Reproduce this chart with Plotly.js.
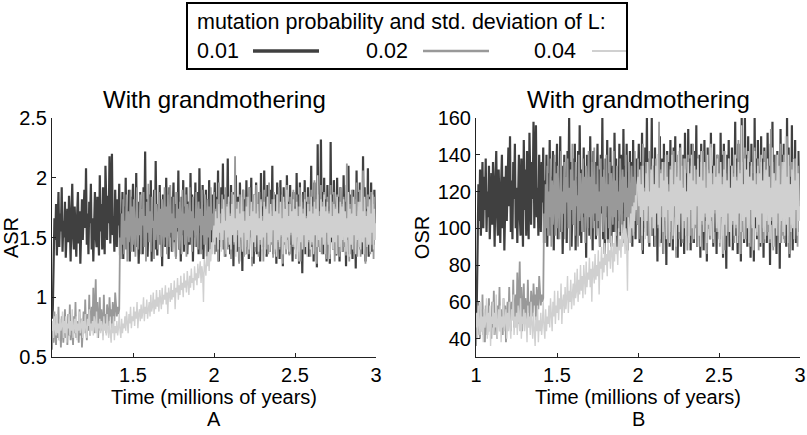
<!DOCTYPE html>
<html>
<head>
<meta charset="utf-8">
<script src="https://cdn.plot.ly/plotly-3.0.1.min.js"></script>
<style>html,body{margin:0;padding:0;background:#fff;}#chart{width:807px;height:435px;}</style>
</head>
<body>
<div id="chart"></div>
<script>
// Time axis: 1.000 .. 3.000 million years, one sample every 0.005
const timeStart = 1.0;
const timeStep = 0.005;

const seriesNames = ["0.01", "0.02", "0.04"];
const legendTitle = "mutation probability and std. deviation of L:";
const panelTitle = "With grandmothering";
const xLabel = "Time (millions of years)";
const panelLetters = ["A", "B"];
const yLabels = ["ASR", "OSR"];
const xTicksA = [1.5, 2, 2.5, 3];
const xTicksB = [1, 1.5, 2, 2.5, 3];
const yTicksA = [0.5, 1, 1.5, 2, 2.5];
const yTicksB = [40, 60, 80, 100, 120, 140, 160];

// ---- Panel A: ASR ----
const asr001 = [
0.82,0.90,1.28,1.66,1.48,1.78,1.35,1.60,1.88,1.42,
1.70,1.55,1.92,1.38,1.64,1.50,1.80,1.33,1.58,1.74,
1.46,1.85,1.62,1.30,1.70,1.95,1.52,1.40,1.76,1.60,
1.34,1.68,1.88,1.45,1.72,1.28,1.56,1.82,1.48,1.66,
1.90,1.58,2.08,1.44,1.70,1.36,1.80,1.62,1.95,1.40,
1.66,1.30,1.74,1.88,1.52,1.42,1.84,1.60,1.35,2.02,
1.55,1.78,1.40,1.92,1.64,1.36,2.10,1.70,1.48,1.85,
1.62,2.18,1.45,1.80,2.20,1.52,1.68,1.38,1.90,1.58,
1.42,1.82,1.60,1.95,1.35,1.70,1.50,1.88,1.32,1.76,
1.55,2.00,1.40,1.72,1.62,1.90,1.30,1.84,1.48,1.68,
1.95,1.38,1.76,1.55,2.04,1.42,1.80,1.28,1.66,1.88,
1.50,1.74,1.36,1.92,1.60,2.22,1.45,1.82,1.34,1.70,
1.86,1.48,1.98,1.30,1.72,1.58,1.90,1.40,2.14,1.62,
1.35,1.78,1.52,1.94,1.44,1.70,1.26,1.86,1.56,1.80,
1.42,2.00,1.60,1.74,1.32,1.92,1.50,1.84,1.38,1.68,
1.96,1.46,1.78,1.34,1.88,1.55,2.06,1.40,1.72,1.30,
1.84,1.52,1.98,1.38,1.76,1.46,1.92,1.36,1.66,1.80,
1.44,2.04,1.58,1.86,1.30,1.74,1.50,1.96,1.42,1.88,
1.62,1.36,2.08,1.54,1.80,1.40,1.94,1.32,1.72,1.60,
1.90,1.44,1.82,1.34,1.98,1.52,1.76,1.40,1.86,1.48,
1.70,1.96,1.38,1.84,1.56,2.06,1.30,1.78,1.46,1.92,
1.60,2.12,1.40,1.86,1.34,1.74,1.58,2.16,1.42,1.80,
1.36,1.94,1.52,1.78,1.26,1.88,1.48,2.02,1.38,1.70,
1.84,1.30,1.96,1.56,1.76,1.22,1.90,1.44,1.82,1.36,
1.98,1.48,1.74,1.32,1.92,1.58,2.00,1.40,1.80,1.28,
1.86,1.54,1.96,1.36,1.72,1.46,1.88,1.30,2.04,1.50,
1.76,1.42,2.06,1.60,1.84,1.34,1.94,1.48,1.70,1.38,
1.90,1.56,2.10,1.36,1.78,1.44,1.86,1.28,1.96,1.52,
1.68,1.32,1.98,1.50,1.82,1.26,1.92,1.46,1.74,1.40,
2.02,1.54,1.80,1.36,1.94,1.44,1.70,1.30,1.88,1.58,
1.76,1.40,2.04,1.52,1.86,1.28,1.96,1.46,1.72,1.20,
1.88,1.56,1.98,1.36,1.80,1.48,1.92,1.34,1.74,1.60,
2.10,1.42,1.84,1.30,1.96,1.54,1.78,1.25,2.28,1.48,
1.70,1.38,2.32,1.56,1.88,1.36,2.00,1.44,1.82,1.30,
1.94,1.52,1.76,1.28,2.30,1.46,1.86,1.40,1.98,1.58,
1.74,1.35,2.00,1.50,1.84,1.30,1.92,1.44,1.78,1.38,
2.02,1.56,1.80,1.26,1.94,1.48,2.10,1.36,1.86,1.52,
1.70,1.32,1.90,1.46,1.78,1.24,2.06,1.42,1.88,1.54,
1.96,1.40,1.82,1.36,2.18,1.50,1.92,1.30,1.74,1.46,
2.08,1.34,1.84,1.52,1.96,1.38,1.80,1.44,1.90,1.60,
1.55];
const asr002 = [
0.56,0.74,0.62,0.88,0.70,0.60,0.80,0.66,0.92,0.64,
0.78,0.58,0.84,0.70,0.62,0.76,0.90,0.66,0.72,0.60,
0.86,0.68,0.94,0.64,0.78,0.72,0.60,0.84,0.70,0.96,
0.66,0.80,0.74,0.62,0.90,0.68,0.82,0.58,0.76,0.88,
0.70,0.98,0.74,0.64,0.86,0.72,1.02,0.68,0.80,0.92,
0.74,1.08,0.70,0.88,1.15,0.76,0.96,0.66,0.84,1.00,
0.72,0.90,0.80,0.68,1.02,0.78,0.86,0.70,0.94,0.82,
0.76,1.00,0.84,0.90,0.74,0.96,0.86,0.80,1.04,0.88,
0.84,0.92,0.86,0.90,1.50,1.32,1.70,1.44,1.82,1.36,
1.64,1.50,1.86,1.30,1.72,1.46,1.58,1.90,1.38,1.76,
1.44,1.82,1.56,1.34,1.70,1.92,1.40,1.66,1.52,1.86,
1.36,1.74,1.60,1.88,1.42,1.68,1.30,1.80,1.54,1.95,
1.46,1.72,1.38,1.84,1.58,1.64,1.32,1.90,1.48,1.78,
1.62,1.40,1.88,1.52,1.74,1.34,1.82,1.56,1.44,1.92,
1.50,1.76,1.36,1.86,1.60,1.42,1.94,1.54,1.70,1.38,
1.84,1.48,1.66,1.32,1.88,1.58,1.74,1.40,1.80,1.52,
1.36,1.90,1.56,1.70,1.44,1.86,1.34,1.78,1.62,1.46,
1.92,1.50,1.72,1.38,1.84,1.56,1.66,1.42,1.88,1.54,
1.40,1.80,1.60,1.74,1.36,1.90,1.52,1.68,1.44,1.86,
1.58,1.34,1.82,1.50,1.76,1.40,1.92,1.56,1.70,1.46,
1.88,1.36,1.74,1.54,1.82,1.30,1.96,1.48,1.70,1.42,
1.86,1.58,1.66,1.34,1.92,1.50,1.78,1.40,1.84,1.46,
1.70,1.32,1.88,1.56,1.74,1.44,2.18,1.38,1.80,1.52,
1.64,1.28,1.86,1.48,1.76,1.40,1.90,1.34,1.72,1.58,
1.84,1.42,1.70,1.36,1.92,1.50,1.66,1.26,1.86,1.46,
1.78,1.38,1.94,1.52,1.72,1.34,1.88,1.44,1.80,1.56,
1.68,1.30,1.90,1.48,1.76,1.40,1.84,1.36,1.96,1.50,
1.72,1.44,1.82,1.33,1.88,1.54,1.70,1.38,1.86,1.46,
1.92,1.40,1.74,1.50,1.86,1.28,1.80,1.44,1.70,1.36,
1.94,1.48,1.78,1.35,1.84,1.52,1.72,1.42,1.90,1.45,
1.70,1.32,1.86,1.50,1.76,1.38,1.92,1.30,1.80,1.46,
1.74,1.40,1.88,1.54,1.68,1.36,1.84,1.46,1.78,1.34,
1.90,1.44,1.76,1.38,1.98,1.52,1.82,1.28,1.86,1.42,
1.72,1.48,1.94,1.36,1.80,1.56,1.88,1.40,1.76,1.32,
1.84,1.46,1.72,1.36,1.94,1.50,1.80,1.40,1.88,1.30,
1.76,1.54,1.86,1.42,1.70,1.34,1.92,1.46,1.78,1.38,
1.84,1.42,1.70,1.35,2.12,1.48,1.86,1.30,1.78,1.44,
1.90,1.52,1.74,1.38,1.82,1.46,1.96,1.34,1.72,1.50,
1.90,1.34,1.76,1.46,2.06,1.40,1.82,1.28,1.72,1.44,
1.86,1.52,1.70,1.36,1.88,1.44,1.78,1.32,1.84,1.50,
1.60];
const asr004 = [
0.72,0.80,0.66,0.84,0.74,0.68,0.86,0.70,0.78,0.64,
0.82,0.72,0.76,0.88,0.66,0.80,0.70,0.84,0.62,0.78,
0.74,0.86,0.68,0.80,0.72,0.90,0.66,0.76,0.82,0.70,
0.84,0.64,0.78,0.72,0.88,0.70,0.76,0.82,0.66,0.80,
0.70,0.86,0.74,0.66,0.82,0.76,0.90,0.68,0.78,0.72,
0.80,0.68,0.84,0.74,0.70,0.88,0.66,0.78,0.74,0.82,
0.70,0.80,0.76,0.64,0.84,0.72,0.78,0.68,0.86,0.74,
0.66,0.80,0.72,0.62,0.78,0.70,0.84,0.64,0.76,0.70,
0.80,0.68,0.74,0.86,0.72,0.66,0.82,0.70,0.78,0.74,
0.84,0.72,0.88,0.76,0.70,0.86,0.78,0.92,0.74,0.84,
0.80,0.92,0.76,0.88,0.82,0.96,0.74,0.86,0.90,0.80,
0.94,0.82,0.88,1.00,0.80,0.92,0.86,0.98,0.82,0.90,
0.96,0.84,1.02,0.88,0.92,1.04,0.86,0.98,0.90,1.06,
0.92,1.00,0.88,1.06,0.96,0.90,1.08,0.94,1.02,0.98,
1.10,0.94,1.04,0.86,1.08,1.00,0.96,1.12,0.98,1.06,
1.00,1.14,0.90,1.08,1.04,1.16,0.98,1.10,1.02,1.18,
1.06,1.12,1.00,1.20,1.08,1.14,1.04,1.22,1.10,1.02,
1.18,1.08,1.24,1.12,1.16,1.06,1.26,1.14,1.20,1.10,
1.28,1.16,1.22,1.30,1.12,1.26,1.20,0.96,1.32,1.24,
1.18,1.34,1.26,1.38,1.22,1.40,1.30,1.46,1.36,1.52,
1.60,1.44,1.72,1.50,1.66,1.40,1.78,1.54,1.62,1.38,
1.74,1.48,1.82,1.56,1.64,1.36,1.76,1.50,1.84,1.44,
1.68,1.40,1.78,1.52,1.86,1.46,1.66,1.34,1.74,1.56,
1.80,1.42,1.70,1.50,1.84,1.38,1.72,1.54,1.64,1.36,
1.76,1.48,1.84,1.40,1.68,1.56,1.80,1.34,1.72,1.46,
1.86,1.42,1.70,1.52,1.78,1.38,1.66,1.48,1.82,1.40,
1.64,1.50,1.80,1.36,1.74,1.54,1.84,1.44,1.70,1.38,
1.78,1.46,1.68,1.56,1.82,1.40,1.72,1.34,1.86,1.48,
1.70,1.42,1.80,1.52,1.66,1.36,1.84,1.46,1.74,1.40,
1.90,1.50,1.68,1.38,1.78,1.54,1.72,1.44,1.82,1.42,
1.74,1.36,1.80,1.50,1.68,1.30,1.76,1.46,1.86,1.40,
1.70,1.52,1.82,1.42,1.66,1.34,1.78,1.48,1.72,1.40,
1.84,1.46,1.70,1.36,1.80,1.52,1.74,1.42,2.02,1.48,
1.68,1.38,1.82,1.50,1.76,1.44,1.86,1.36,1.72,1.54,
1.80,1.44,1.70,1.32,1.86,1.50,1.68,1.40,1.78,1.46,
1.74,1.36,1.84,1.52,1.70,1.42,1.80,1.38,1.76,1.48,
1.82,1.46,1.72,1.38,1.66,1.50,1.88,1.34,1.74,1.44,
1.70,1.40,1.84,1.52,1.78,1.36,1.68,1.48,1.80,1.42,
1.80,1.40,1.96,1.46,1.72,1.36,1.84,1.50,1.68,1.42,
1.76,1.44,1.82,1.38,1.70,1.54,1.86,1.40,1.74,1.48,
1.62];

// ---- Panel B: OSR ----
const osr001 = [
52,60,90,124,104,132,96,118,136,100,
128,110,138,98,120,106,134,94,116,130,
102,136,118,90,126,142,108,96,132,112,
92,124,140,100,128,88,114,134,104,122,
144,112,150,98,126,94,136,116,146,100,
122,92,130,140,108,96,138,114,90,148,
110,132,96,142,118,94,152,124,102,136,
116,158,100,134,156,106,122,96,140,112,
98,136,114,144,92,126,104,140,90,130,
108,148,96,128,118,142,88,136,104,124,
146,94,130,110,150,98,134,86,120,140,
104,128,92,142,116,160,100,136,90,126,
138,102,146,88,128,112,142,96,156,116,
92,132,106,144,98,126,84,140,110,134,
96,150,114,128,88,142,104,136,94,122,
146,100,132,90,140,108,160,94,126,86,
138,106,148,92,130,100,144,90,120,134,
98,152,112,138,86,128,104,146,96,140,
116,92,154,108,134,96,146,88,126,114,
142,98,136,90,148,106,130,94,138,102,
124,146,92,136,110,152,86,132,100,144,
114,160,96,138,90,128,112,160,96,134,
90,144,106,132,82,140,102,150,92,126,
138,86,146,110,130,80,142,98,136,90,
148,102,128,88,144,112,150,94,134,84,
140,108,146,90,126,100,140,86,152,104,
130,96,154,114,138,88,146,102,124,92,
142,110,156,90,132,98,140,84,146,106,
122,88,148,104,136,82,144,100,128,94,
152,108,134,90,146,98,126,86,140,112,
130,94,152,106,140,84,146,100,126,78,
140,110,148,90,134,102,144,88,128,114,
158,96,138,86,146,108,132,82,160,102,
124,92,160,110,140,90,150,98,136,84,
146,106,130,82,160,100,138,94,148,112,
128,90,150,104,138,84,144,98,132,92,
152,110,134,80,146,102,158,90,140,106,
124,86,142,100,132,78,154,96,140,108,
146,94,136,90,160,104,144,84,128,100,
156,88,138,106,148,92,134,98,142,114,
112];
const osr002 = [
36,50,42,60,48,40,56,44,64,42,
54,38,58,48,42,52,62,44,50,40,
60,46,66,42,54,50,40,58,48,68,
44,56,50,42,62,46,58,38,52,60,
48,68,50,44,60,50,72,46,56,64,
50,76,48,62,82,52,68,44,58,70,
50,62,56,46,72,54,60,48,66,58,
52,70,58,64,50,68,60,56,74,62,
58,64,60,62,108,92,124,100,134,96,
120,106,138,90,126,102,114,140,96,130,
100,134,112,94,124,142,98,120,108,136,
94,128,114,138,100,122,88,132,110,146,
102,126,96,136,112,118,90,140,104,130,
116,98,138,108,128,92,134,110,100,142,
106,128,94,136,114,100,144,108,124,96,
134,104,120,90,138,112,128,98,132,108,
94,140,112,124,100,136,92,130,116,102,
142,106,126,96,134,110,120,98,138,108,
98,132,114,128,94,140,106,122,100,136,
112,92,134,106,128,98,142,110,124,102,
138,94,126,108,134,88,146,104,122,98,
136,112,120,92,142,104,130,96,134,100,
124,90,138,110,126,100,158,94,132,106,
118,86,136,104,128,96,140,92,124,112,
134,98,122,94,142,106,120,84,136,102,
130,94,144,108,124,92,138,100,132,110,
120,88,140,104,128,96,134,92,146,106,
124,100,132,90,138,110,122,96,136,102,
142,98,126,106,136,86,132,100,122,94,
144,104,130,92,134,108,124,98,140,100,
122,90,136,106,128,96,142,88,130,102,
126,98,138,110,120,94,134,102,130,92,
140,100,128,96,148,108,132,86,136,98,
124,104,144,94,130,112,138,98,128,90,
134,102,124,94,144,106,130,98,138,88,
128,110,136,100,122,92,142,104,130,96,
134,98,122,92,154,104,136,88,130,100,
140,108,126,96,132,102,146,92,124,106,
140,92,128,104,150,96,134,86,124,102,
136,108,122,94,138,100,130,90,134,106,
115];
const osr004 = [
46,54,40,58,48,42,60,44,52,38,
56,46,50,62,40,54,44,58,36,52,
48,60,42,54,46,64,40,50,56,44,
58,38,52,46,62,44,50,56,40,54,
44,60,48,40,56,50,64,42,52,46,
54,42,58,48,44,62,40,52,48,56,
44,54,50,38,58,46,52,42,60,48,
40,54,46,36,52,44,58,38,50,44,
54,42,48,60,46,40,56,44,52,48,
58,46,62,50,44,60,52,66,48,58,
54,66,50,62,56,70,48,60,64,54,
68,56,62,74,54,66,60,72,56,64,
70,58,76,62,66,78,60,72,64,80,
66,74,62,80,70,64,82,68,76,72,
84,68,78,60,82,74,70,86,72,80,
74,88,64,82,78,90,72,84,76,92,
80,86,74,94,82,88,78,96,84,76,
92,82,98,86,90,80,100,88,94,84,
102,90,96,104,86,100,94,66,106,98,
92,108,100,112,96,114,104,118,110,124,
128,112,132,106,124,96,134,110,120,94,
130,104,136,112,120,92,132,106,138,100,
124,96,134,108,140,102,122,90,130,112,
136,98,126,106,140,94,128,110,120,92,
132,104,140,96,124,112,136,90,128,102,
142,98,126,108,134,94,122,104,138,96,
120,106,136,92,130,110,140,100,126,94,
134,102,124,112,138,96,128,90,142,104,
126,98,136,108,122,92,140,102,130,96,
146,106,124,94,134,110,128,100,138,98,
130,92,136,106,124,86,132,102,142,96,
126,108,138,98,122,90,134,104,128,96,
140,102,126,92,136,108,130,98,156,104,
124,94,138,106,132,100,142,92,128,110,
136,100,126,88,142,106,124,96,134,102,
130,92,140,108,126,98,136,94,132,104,
138,102,128,94,122,106,144,90,130,100,
126,96,140,108,134,92,124,104,136,98,
136,96,150,102,128,92,140,106,124,98,
132,100,138,94,126,110,142,96,130,104,
112];

const colors = ["#404040", "#999999", "#d0d0d0"];
const widths = [2.2, 1.8, 1.4];
const FONT = "Liberation Sans, Arial, Helvetica, sans-serif";

function tr(y, i, xa, ya) {
  return {type: "scatter", mode: "lines", x0: timeStart, dx: timeStep, y: y,
    xaxis: xa, yaxis: ya, name: seriesNames[i], showlegend: false, hoverinfo: "skip",
    line: {color: colors[i], width: widths[i]}};
}
const data = [
  tr(asr001, 0, "x", "y"), tr(asr002, 1, "x", "y"), tr(asr004, 2, "x", "y"),
  tr(osr001, 0, "x2", "y2"), tr(osr002, 1, "x2", "y2"), tr(osr004, 2, "x2", "y2")
];

const W = 807, H = 435;
const px = v => v / W, py = v => 1 - v / H;
const TICKFONT = {family: FONT, size: 20, color: "#000"};

function xax(domain, ticks, anchor) {
  return {domain: domain, range: [1, 3], anchor: anchor, showgrid: false, zeroline: false,
    showline: true, linecolor: "#222", linewidth: 1, ticks: "inside", ticklen: 4, tickcolor: "#222",
    tickvals: ticks, ticktext: ticks.map(String), tickfont: TICKFONT, ticklabelstandoff: 0,
    title: {text: xLabel, font: TICKFONT, standoff: 0}};
}
function yax(range, ticks, anchor, label) {
  return {domain: [py(357), py(118)], range: range, anchor: anchor, showgrid: false, zeroline: false,
    showline: true, linecolor: "#222", linewidth: 1, ticks: "inside", ticklen: 4, tickcolor: "#222",
    tickvals: ticks, ticktext: ticks.map(String), tickfont: TICKFONT, ticklabelstandoff: 0,
    title: {text: label, font: TICKFONT, standoff: 2}};
}

const ann = [];
const shapes = [];
function txt(text, x, y, size, xanchor) {
  ann.push({text: text, xref: "paper", yref: "paper", x: px(x), y: py(y), showarrow: false,
    xanchor: xanchor || "center", yanchor: "middle", font: {family: FONT, size: size, color: "#000"}});
}
// panel titles and letters
txt(panelTitle, 214, 99, 24);
txt(panelTitle, 638, 99, 24);
txt(panelLetters[0], 214, 419, 20);
txt(panelLetters[1], 638, 419, 20);
// legend box
shapes.push({type: "rect", xref: "paper", yref: "paper", x0: px(187), x1: px(627), y0: py(69), y1: py(3),
  line: {color: "#000", width: 2}, fillcolor: "#fff"});
txt(legendTitle, 195, 22, 21.5, "left");
const legX = [[195, 253, 319], [364, 423, 489], [532, 592, 626]];
const legW = [3.5, 2.5, 1.8];
for (let i = 0; i < 3; i++) {
  txt(seriesNames[i], legX[i][0], 51, 21.5, "left");
  shapes.push({type: "line", xref: "paper", yref: "paper", x0: px(legX[i][1]), x1: px(legX[i][2]),
    y0: py(51), y1: py(51), line: {color: colors[i], width: legW[i]}});
}

const layout = {
  width: W, height: H, margin: {l: 0, r: 0, t: 0, b: 0},
  paper_bgcolor: "#fff", plot_bgcolor: "#fff", showlegend: false,
  font: {family: FONT, color: "#000"},
  xaxis: xax([px(52), px(376)], xTicksA, "y"),
  yaxis: yax([0.5, 2.5], yTicksA, "x", yLabels[0]),
  xaxis2: xax([px(476), px(800)], xTicksB, "y2"),
  yaxis2: yax([30, 160], yTicksB, "x2", yLabels[1]),
  annotations: ann, shapes: shapes
};
Plotly.newPlot("chart", data, layout, {displayModeBar: false, staticPlot: true});
</script>
</body>
</html>
